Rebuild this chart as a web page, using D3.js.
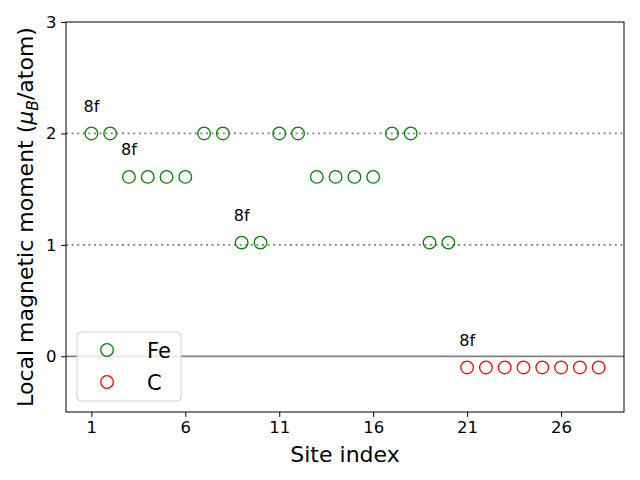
<!DOCTYPE html>
<html>
<head>
<meta charset="utf-8">
<script src="https://cdn.jsdelivr.net/npm/d3@7"></script>
<style>
  body { margin: 0; background: #fff; }
  svg { font-family: "DejaVu Sans", sans-serif; }
</style>
</head>
<body>
<svg id="chart" width="640" height="480"></svg>
<script>
// === Data ===
const feSites = [1, 2, 3, 4, 5, 6, 7, 8, 9, 10, 11, 12, 13, 14, 15, 16, 17, 18, 19, 20];
const feMoments = [2.0, 2.0, 1.61, 1.61, 1.61, 1.61, 2.0, 2.0, 1.02, 1.02,
                   2.0, 2.0, 1.61, 1.61, 1.61, 1.61, 2.0, 2.0, 1.02, 1.02];
const cSites = [21, 22, 23, 24, 25, 26, 27, 28];
const cMoments = [-0.1, -0.1, -0.1, -0.1, -0.1, -0.1, -0.1, -0.1];
const wyckoffLabels = [
    { site: 1, value: 2.0, text: '8f' },
    { site: 3, value: 1.61, text: '8f' },
    { site: 9, value: 1.02, text: '8f' },
    { site: 21, value: -0.1, text: '8f' },
];
const refLevels = [2, 1];
const xTicks = [1, 6, 11, 16, 21, 26];
const yTicks = [0, 1, 2, 3];

const series = [
    { name: 'Fe', color: 'green', sites: feSites, values: feMoments },
    { name: 'C', color: 'red', sites: cSites, values: cMoments },
];

// === Layout ===
const margin = { left: 66, right: 16, top: 22, bottom: 68 };
const width = 640, height = 480;
const svg = d3.select('#chart');

const x = d3.scaleLinear().domain([-0.35, 29.35]).range([margin.left, width - margin.right]);
const y = d3.scaleLinear().domain([-0.5, 3]).range([height - margin.bottom, margin.top]);

// Reference lines
svg.append('g')
    .selectAll('line')
    .data(refLevels)
    .join('line')
    .attr('x1', x.range()[0]).attr('x2', x.range()[1])
    .attr('y1', d => y(d)).attr('y2', d => y(d))
    .attr('stroke', 'gray')
    .attr('stroke-width', 1.8)
    .attr('stroke-dasharray', '2,3.6');

svg.append('line')
    .attr('x1', x.range()[0]).attr('x2', x.range()[1])
    .attr('y1', y(0)).attr('y2', y(0))
    .attr('stroke', 'gray')
    .attr('stroke-width', 1.8);

// Points
series.forEach(s => {
    svg.append('g')
        .selectAll('circle')
        .data(s.sites.map((site, i) => ({ site, v: s.values[i] })))
        .join('circle')
        .attr('cx', d => x(d.site))
        .attr('cy', d => y(d.v))
        .attr('r', 6.3)
        .attr('fill', 'none')
        .attr('stroke', s.color)
        .attr('stroke-width', 1.3);
});

// Site labels
svg.append('g')
    .selectAll('text')
    .data(wyckoffLabels)
    .join('text')
    .attr('x', d => x(d.site))
    .attr('y', d => y(d.value + 0.25) + 6)
    .attr('text-anchor', 'middle')
    .attr('font-size', '16px')
    .attr('fill', '#000')
    .text(d => d.text);

// Axes
const xAxis = svg.append('g')
    .attr('transform', `translate(0,${height - margin.bottom})`)
    .call(d3.axisBottom(x).tickValues(xTicks).tickFormat(d3.format('d')).tickSize(4.9).tickPadding(4));
const yAxis = svg.append('g')
    .attr('transform', `translate(${margin.left},0)`)
    .call(d3.axisLeft(y).tickValues(yTicks).tickFormat(d3.format('d')).tickSize(4.9).tickPadding(4.5));

[xAxis, yAxis].forEach(a => {
    a.select('.domain').remove();
    a.attr('font-size', null).attr('font-family', null);
    a.selectAll('text').attr('font-size', '16.5px').attr('fill', '#000');
    a.selectAll('line').attr('stroke', '#000').attr('stroke-width', 1);
});

// Frame
svg.append('rect')
    .attr('x', x.range()[0]).attr('y', y.range()[1])
    .attr('width', x.range()[1] - x.range()[0])
    .attr('height', y.range()[0] - y.range()[1])
    .attr('fill', 'none')
    .attr('stroke', '#000')
    .attr('stroke-width', 1);

// Axis titles
svg.append('text')
    .attr('x', (x.range()[0] + x.range()[1]) / 2)
    .attr('y', 462)
    .attr('text-anchor', 'middle')
    .attr('font-size', '22px')
    .text('Site index');

const yt = svg.append('text')
    .attr('transform', `translate(33,${(y.range()[0] + y.range()[1]) / 2}) rotate(-90)`)
    .attr('text-anchor', 'middle')
    .attr('font-size', '22px');
yt.append('tspan').text('Local magnetic moment (');
yt.append('tspan').attr('font-style', 'italic').text('μ');
yt.append('tspan').attr('font-style', 'italic').attr('font-size', '15.5px').attr('dy', 5).text('B');
yt.append('tspan').attr('dy', -5).text('/atom)');

// Legend
const legend = svg.append('g');
legend.append('rect')
    .attr('x', 77).attr('y', 332)
    .attr('width', 104).attr('height', 69)
    .attr('rx', 4)
    .attr('fill', 'rgba(255,255,255,0.8)')
    .attr('stroke', '#d0d0d0')
    .attr('stroke-width', 1);
series.forEach((s, i) => {
    const ly = 350 + i * 32;
    legend.append('circle')
        .attr('cx', 107).attr('cy', ly).attr('r', 6.3)
        .attr('fill', 'none').attr('stroke', s.color).attr('stroke-width', 1.3);
    legend.append('text')
        .attr('x', 147).attr('y', ly + 7.5)
        .attr('font-size', '21px')
        .text(s.name);
});
</script>
</body>
</html>
